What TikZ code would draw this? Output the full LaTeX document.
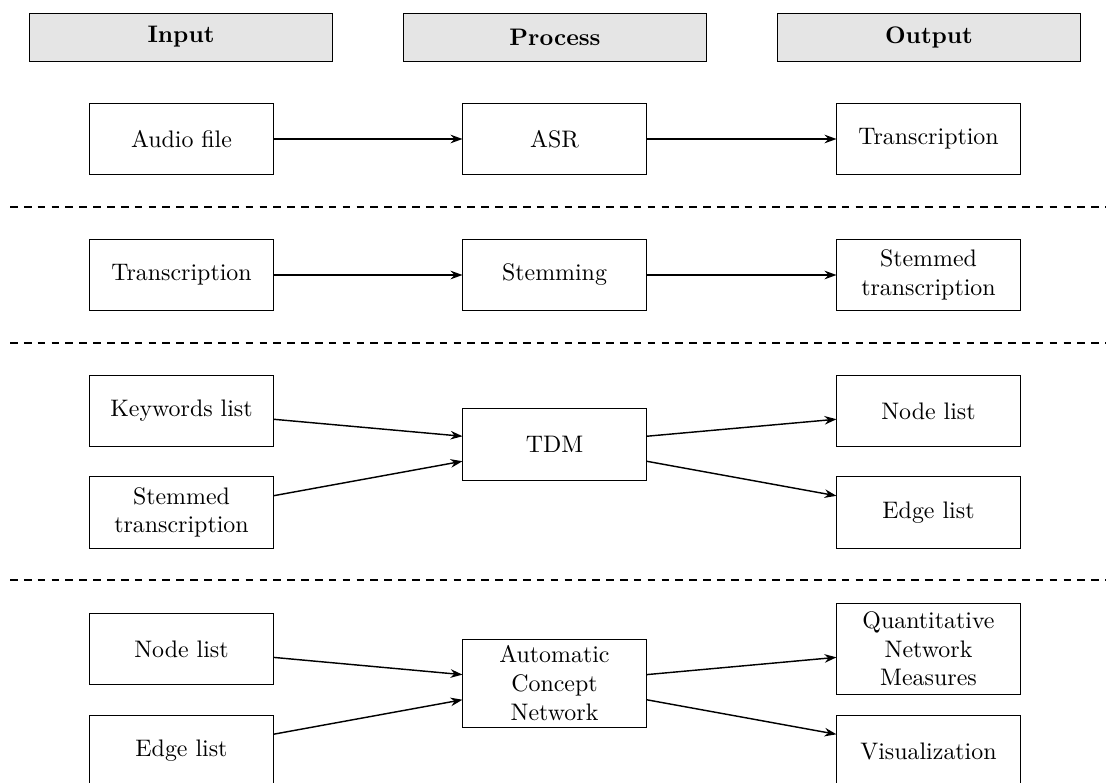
\documentclass[tikz,border=0pt]{standalone}
\usetikzlibrary{arrows.meta}
\begin{document}
\begin{tikzpicture}[x=0.4184pt,y=-0.4184pt,
  hdr/.style={draw, fill=black!10, minimum width=126.4pt, minimum height=20.1pt, inner sep=0pt, font=\bfseries},
  box/.style={draw, minimum width=76.6pt, minimum height=30.1pt, inner sep=0pt, align=center},
  arr/.style={semithick, -{Stealth[length=5pt,width=3.6pt]}},
  sep/.style={thick, dash pattern=on 3.2pt off 2.6pt}]
\useasboundingbox (0,0) rectangle (1106,783);
% headers
\node[hdr] (hin) at (181,37) {Input};
\node[hdr] (hpr) at (555,37) {Process};
\node[hdr] (hout) at (929,37) {Output};
% row 1
\node[box] (audio) at (181.5,139) {Audio file};
\node[box] (asr) at (554.5,139) {ASR};
\node[box] (trans1) at (928.5,139) {Transcription};
\draw[arr] (audio) -- (asr);
\draw[arr] (asr) -- (trans1);
\coordinate (d1a) at (10,207); \coordinate (d1b) at (1106,207);
\draw[sep] (d1a) -- (d1b);
% row 2
\node[box] (trans2) at (181.5,275) {Transcription};
\node[box] (stem) at (554.5,275) {Stemming};
\node[box] (stemtr) at (928.5,275) {Stemmed\\transcription};
\draw[arr] (trans2) -- (stem);
\draw[arr] (stem) -- (stemtr);
\coordinate (d2a) at (10,343); \coordinate (d2b) at (1106,343);
\draw[sep] (d2a) -- (d2b);
% row 3
\node[box] (kw) at (181.5,411) {Keywords list};
\node[box] (stemtr2) at (181.5,512.5) {Stemmed\\transcription};
\node[box] (tdm) at (554.5,444.5) {TDM};
\node[box] (nl1) at (928.5,411) {Node list};
\node[box] (el1) at (928.5,512.5) {Edge list};
\draw[arr] (kw) -- (tdm);
\draw[arr] (stemtr2) -- (tdm);
\draw[arr] (tdm) -- (nl1);
\draw[arr] (tdm) -- (el1);
\coordinate (d3a) at (10,580); \coordinate (d3b) at (1106,580);
\draw[sep] (d3a) -- (d3b);
% row 4
\node[box] (nl2) at (181.5,649) {Node list};
\node[box] (el2) at (181.5,751) {Edge list};
\node[box, minimum height=36.8pt] (acn) at (554.5,683) {Automatic\\Concept\\Network};
\node[box, minimum height=37.7pt] (qnm) at (928.5,649) {Quantitative\\Network\\Measures};
\node[box] (vis) at (928.5,751) {Visualization};
\draw[arr] (nl2) -- (acn);
\draw[arr] (el2) -- (acn);
\draw[arr] (acn) -- (qnm);
\draw[arr] (acn) -- (vis);
\end{tikzpicture}
\end{document}
